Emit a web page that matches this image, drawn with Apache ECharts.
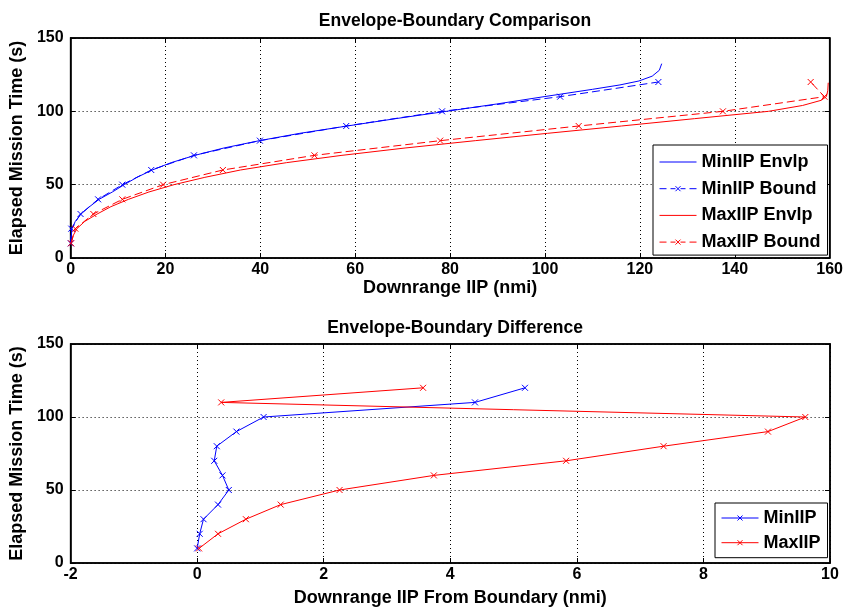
<!DOCTYPE html>
<html><head><meta charset="utf-8">
<script src="https://cdn.jsdelivr.net/npm/echarts@6/dist/echarts.min.js"></script>
<style>html,body{margin:0;padding:0;background:#fff}#c{width:846px;height:610px}</style>
</head><body><div id="c"></div><script>
// ---- data ----
const boundTimes = [10, 20, 30, 40, 50, 60, 70, 80, 90, 100, 110, 120];
const minBoundX  = [0.05, 0.15, 2.1, 5.8, 10.9, 17.0, 26.0, 39.9, 58.1, 78.3, 103.2, 123.9];
const maxBoundX  = [0.1, 1.0, 4.8, 10.9, 19.5, 32.1, 51.4, 77.9, 107.1, 137.5, 158.9, 156.0];

const minEnvT = [10, 14, 20, 25, 30, 35, 40, 45, 50, 55, 60, 65, 70, 75, 80, 85, 90, 95, 100, 105, 110, 115, 118, 120.7, 124, 128, 132.5];
const minEnvX = [0, 0.1, 0.3, 1.0, 2.2, 4.0, 6.0, 8.8, 11.3, 14.0, 17.2, 21.2, 26.2, 32.3, 39.8, 48.3, 58.3, 68.5, 79.2, 89.8, 99.8, 110.0, 115.8, 119.8, 122.6, 124.1, 124.6];

const maxEnvT = [10, 15, 20, 25, 30, 35, 40, 45, 50, 55, 60, 65, 70, 75, 80, 85, 90, 95, 100, 104, 107.5, 110, 114, 119.5];
const maxEnvX = [0.13, 0.5, 1.33, 3.0, 5.6, 8.5, 12.2, 16.5, 21.8, 28.3, 35.8, 45.5, 57.2, 70.5, 85.3, 100.5, 116.1, 131.5, 147.1, 154.3, 158.2, 159.3, 159.6, 159.7];

const diffTimes = [10, 20, 30, 40, 50, 60, 70, 80, 90, 100, 110, 120];
const minDiff = [0.0, 0.04, 0.1, 0.33, 0.5, 0.4, 0.27, 0.31, 0.62, 1.05, 4.39, 5.18];
const maxDiff = [0.03, 0.33, 0.77, 1.32, 2.25, 3.74, 5.83, 7.37, 9.02, 9.61, 0.38, 3.57];

const topTitle = 'Envelope-Boundary Comparison';
const botTitle = 'Envelope-Boundary Difference';
const topXName = 'Downrange IIP (nmi)';
const botXName = 'Downrange IIP From Boundary (nmi)';
const yName = 'Elapsed Mission Time (s)';
const topLegend = ['MinIIP Envlp', 'MinIIP Bound', 'MaxIIP Envlp', 'MaxIIP Bound'];
const botLegend = ['MinIIP', 'MaxIIP'];

// ---- chart ----
const BLUE = '#0000ff', RED = '#ff0000';
const FONT = '"Liberation Sans", Arial, sans-serif';
const X_SYM = 'path://M0,0L10,10M10,0L0,10';
const ICON_SOLID = 'path://M0,0L0,0M0,3L37,3M37,6L37,6';
const ICON_DASH_X = 'path://M0,3L7,3M11,3L16,3M16,0.5L21,5.5M21,0.5L16,5.5M21,3L26,3M30,3L37,3';
const ICON_SOLID_X = 'path://M0,3L37,3M16,0.5L21,5.5M21,0.5L16,5.5';
const pairs = (xs, ys) => xs.map((x, i) => [x, ys[i]]);

function mkAxis(kind, gridIndex, min, max, interval, opts) {
  const main = !opts.mirror;
  return Object.assign({
    type: 'value', gridIndex, min, max, interval,
    axisLine: { show: true, onZero: false, lineStyle: { color: '#000', width: 1.5 } },
    axisTick: { show: true, inside: true, length: 5, lineStyle: { color: '#000', width: 1 } },
    axisLabel: { show: main, color: '#000', fontFamily: FONT, fontWeight: 'bold', fontSize: 16, margin: kind === 'x' ? 4 : 7 },
    splitLine: { show: main, lineStyle: { color: '#000', type: [1, 3], width: 1 } },
    nameTextStyle: { color: '#000', fontFamily: FONT, fontWeight: 'bold', fontSize: 18 },
    nameLocation: 'middle'
  }, opts.extra || {});
}

const lineSeries = (name, xs, ys, color, dashed, marker, xi) => ({
  name, type: 'line', xAxisIndex: xi, yAxisIndex: xi,
  data: pairs(xs, ys),
  smooth: false,
  symbol: marker ? X_SYM : 'none', symbolSize: 6, showSymbol: !!marker,
  itemStyle: { color: color, borderColor: color, borderWidth: 1 },
  lineStyle: { color: color, width: 1, type: dashed ? [8, 4] : 'solid' },
  emphasis: { disabled: true }, animation: false, z: 3
});

const legItem = (name, icon, color) => ({ name, icon, itemStyle: { color: color, borderColor: color, borderWidth: 1 } });

const legendText = { fontFamily: FONT, fontWeight: 'bold', fontSize: 18, color: '#000', lineHeight: 18 };

const chart = echarts.init(document.getElementById('c'), null, { renderer: 'canvas' });
chart.setOption({
  backgroundColor: '#fff',
  animation: false,
  title: [
    { text: topTitle, left: 450, top: 7, textAlign: 'center', textStyle: { fontFamily: FONT, fontWeight: 'bold', fontSize: 17.5, color: '#000' } },
    { text: botTitle, left: 450, top: 314, textAlign: 'center', textStyle: { fontFamily: FONT, fontWeight: 'bold', fontSize: 17.5, color: '#000' } }
  ],
  grid: [
    { left: 70, right: 16, top: 38, height: 220, show: true, borderColor: '#000', borderWidth: 1.5, backgroundColor: '#fff' },
    { left: 70, right: 16, top: 344, height: 219, show: true, borderColor: '#000', borderWidth: 1.5, backgroundColor: '#fff' }
  ],
  xAxis: [
    mkAxis('x', 0, 0, 160, 20, { extra: { position: 'bottom', name: topXName, nameGap: 17 } }),
    mkAxis('x', 1, -2, 10, 2, { extra: { position: 'bottom', name: botXName, nameGap: 26 } }),
    mkAxis('x', 0, 0, 160, 20, { mirror: true, extra: { position: 'top' } }),
    mkAxis('x', 1, -2, 10, 2, { mirror: true, extra: { position: 'top' } })
  ],
  yAxis: [
    mkAxis('y', 0, 0, 150, 50, { extra: { position: 'left', name: yName, nameGap: 37 } }),
    mkAxis('y', 1, 0, 150, 50, { extra: { position: 'left', name: yName, nameGap: 37 } }),
    mkAxis('y', 0, 0, 150, 50, { mirror: true, extra: { position: 'right' } }),
    mkAxis('y', 1, 0, 150, 50, { mirror: true, extra: { position: 'right' } })
  ],
  legend: [
    { data: [legItem(topLegend[0], ICON_SOLID, BLUE), legItem(topLegend[1], ICON_DASH_X, BLUE),
             legItem(topLegend[2], ICON_SOLID, RED), legItem(topLegend[3], ICON_DASH_X, RED)],
      orient: 'vertical', left: 653, top: 145, padding: [8, 7, 4, 6],
      itemWidth: 37, itemHeight: 6, itemGap: 8.7, symbolKeepAspect: true,
      backgroundColor: '#fff', borderColor: '#000', borderWidth: 1, borderRadius: 0,
      textStyle: legendText },
    { data: [legItem(botLegend[0], ICON_SOLID_X, BLUE), legItem(botLegend[1], ICON_SOLID_X, RED)],
      orient: 'vertical', left: 715, top: 503, padding: [6, 7, 6, 6],
      itemWidth: 37, itemHeight: 6, itemGap: 6.7, symbolKeepAspect: true,
      backgroundColor: '#fff', borderColor: '#000', borderWidth: 1, borderRadius: 0,
      textStyle: legendText }
  ],
  series: [
    lineSeries('MinIIP Envlp', minEnvX, minEnvT, BLUE, false, false, 0),
    lineSeries('MinIIP Bound', minBoundX, boundTimes, BLUE, true, true, 0),
    lineSeries('MaxIIP Envlp', maxEnvX, maxEnvT, RED, false, false, 0),
    lineSeries('MaxIIP Bound', maxBoundX, boundTimes, RED, true, true, 0),
    lineSeries('MinIIP', minDiff, diffTimes, BLUE, false, true, 1),
    lineSeries('MaxIIP', maxDiff, diffTimes, RED, false, true, 1)
  ]
});
</script></body></html>
